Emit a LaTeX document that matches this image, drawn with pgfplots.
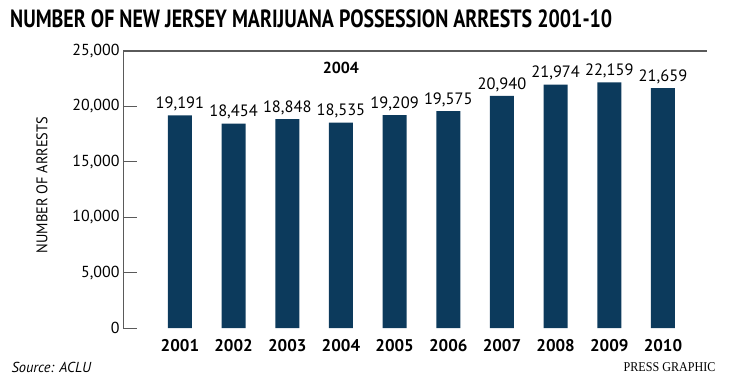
\documentclass[border=0pt]{standalone}
\usepackage{fontspec}
\setmainfont{PT Sans}
\newfontfamily\serifpg{Liberation Serif}
\usepackage{pgfplots}
\pgfplotsset{compat=1.18}
\definecolor{navy}{RGB}{12,58,92}
\definecolor{axgray}{RGB}{90,90,90}
\begin{document}
\begin{tikzpicture}[x=1bp,y=1bp]
\useasboundingbox (0,0) rectangle (730,386);
\node[anchor=west,inner sep=0pt] at (10,367) {\scalebox{0.8}[1]{\bfseries\fontsize{25}{25}\selectfont NUMBER OF NEW JERSEY MARIJUANA POSSESSION ARRESTS 2001-10}};
\begin{axis}[
  at={(123bp,58bp)}, anchor=south west,
  scale only axis, width=584bp, height=277bp,
  xmin=-1.06, xmax=9.82, ymin=0, ymax=25000,
  axis y line*=left, axis x line*=bottom,
  x axis line style={draw=none},
  y axis line style={axgray, line width=1bp},
  xtick={0,...,9},
  xticklabels={2001,2002,2003,2004,2005,2006,2007,2008,2009,2010},
  xtick style={draw=none},
  xticklabel style={font=\bfseries\fontsize{17}{17}\selectfont, yshift=-8bp},
  ytick={0,5000,10000,15000,20000,25000},
  ytick style={axgray, line width=0.8bp},
  tick align=inside, major tick length=14bp,
  yticklabel style={font=\fontsize{16}{16}\selectfont},
  scaled y ticks=false,
  /pgf/number format/.cd, 1000 sep={,}, assume math mode=true,
  /pgfplots/.cd,
  nodes near coords,
  nodes near coords style={font=\fontsize{16.5}{16.5}\selectfont, yshift=1bp, /pgf/number format/1000 sep={,}, /pgf/number format/assume math mode=true},
  clip=false,
]
\addplot[ybar, bar width=24bp, fill=navy, draw=none] coordinates {
(0,19191) (1,18454) (2,18848) (3,18535) (4,19209) (5,19575) (6,20940) (7,21974) (8,22159) (9,21659)
};
\draw[axgray, line width=1.5bp] (axis cs:-1.06,25000) -- (axis cs:9.82,25000);
\node[font=\bfseries\fontsize{16}{16}\selectfont] at (axis cs:3,23450) {2004};
\end{axis}
\node[rotate=90, font=\fontsize{15.5}{15.5}\selectfont] at (42,201) {\scalebox{0.93}[1]{NUMBER OF ARRESTS}};
\node[anchor=west, font=\itshape\fontsize{14.5}{14.5}\selectfont] at (8,19) {Source: ACLU};
\node[anchor=east, font=\serifpg\fontsize{13.5}{13.5}\selectfont] at (719,19) {\scalebox{0.9}[1]{PRESS GRAPHIC}};
\end{tikzpicture}
\end{document}
